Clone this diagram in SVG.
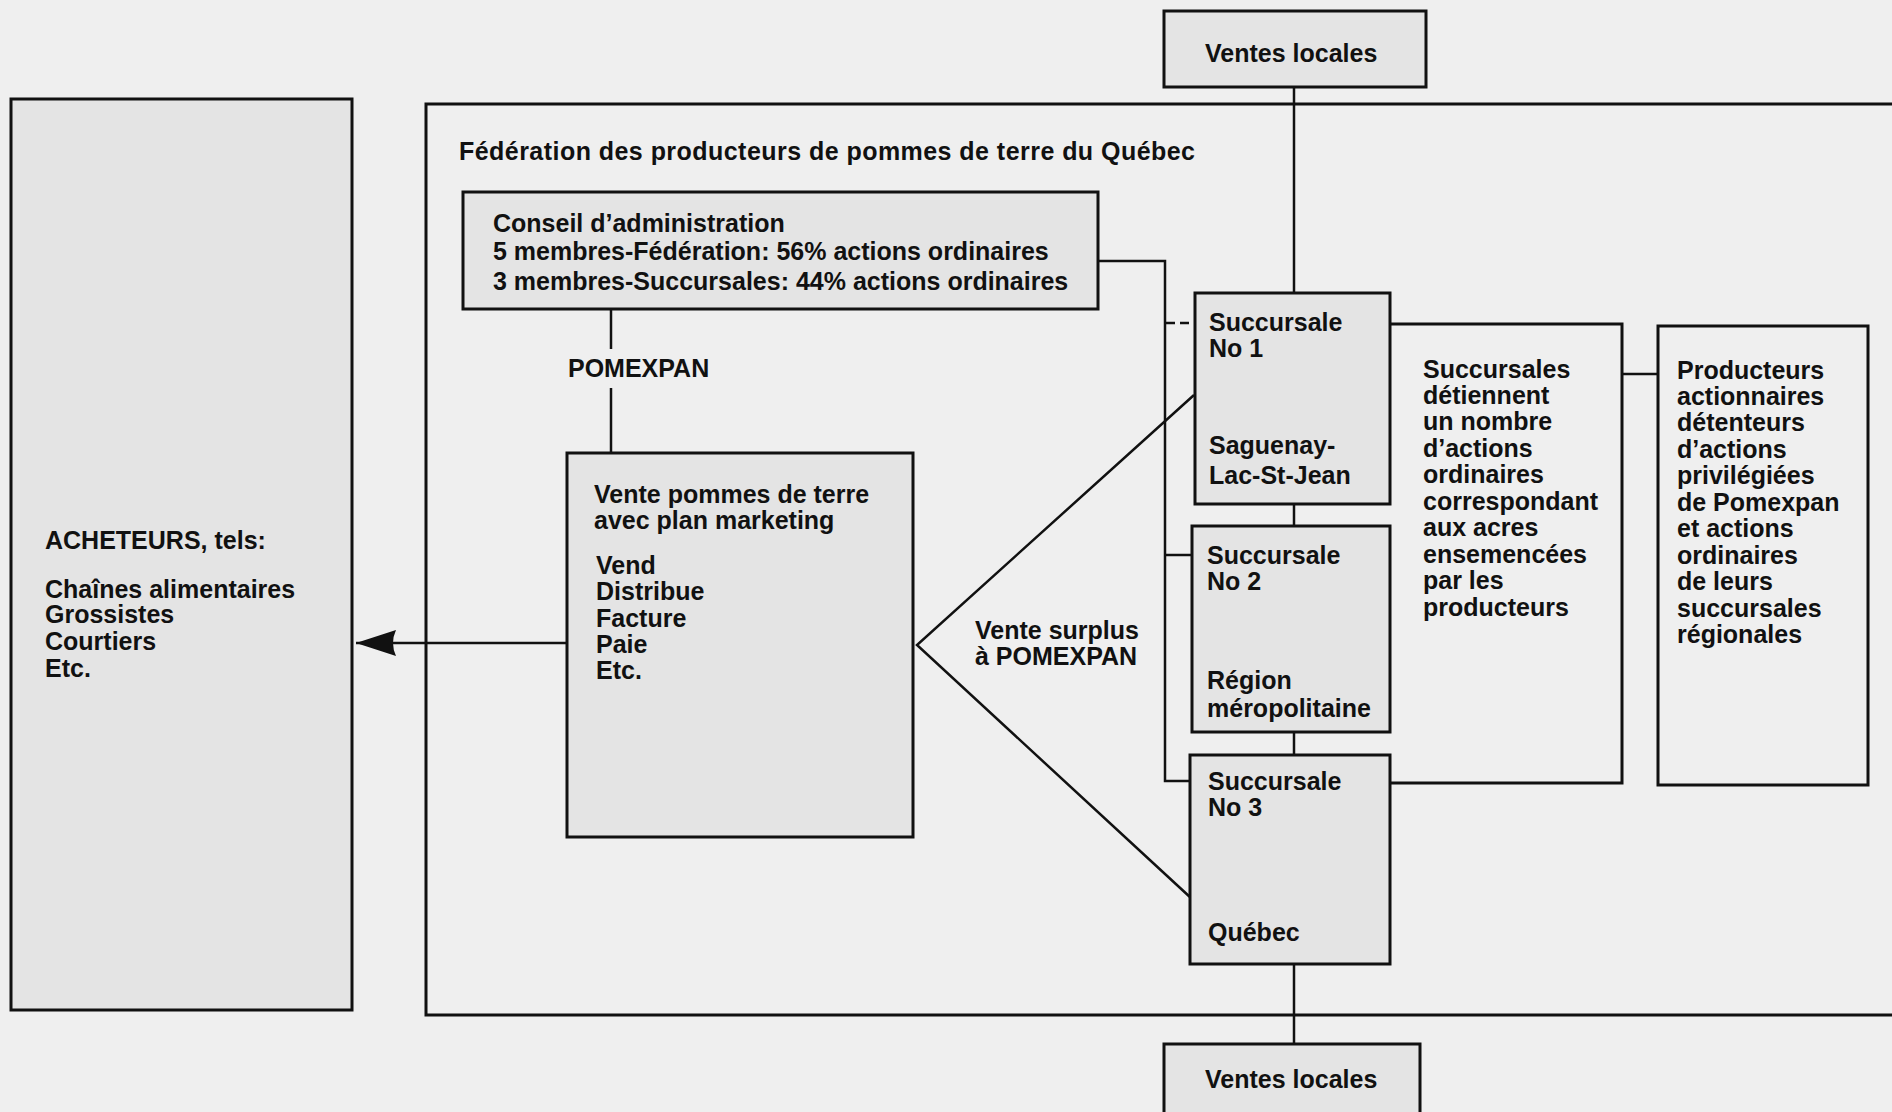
<svg xmlns="http://www.w3.org/2000/svg" width="1892" height="1112" viewBox="0 0 1892 1112">
<defs>
<style>
text{font-family:"Liberation Sans",Arial,sans-serif;font-weight:bold;font-size:25px;fill:#111}
.box{fill:#e4e4e4;stroke:#111;stroke-width:3}
.open{fill:none;stroke:#111;stroke-width:3}
.ln{fill:none;stroke:#111;stroke-width:2.5}
.dash{fill:none;stroke:#111;stroke-width:2.5;stroke-dasharray:9 5}
</style>
<marker id="arr" markerUnits="userSpaceOnUse" viewBox="0 0 44 28" refX="42" refY="14" markerWidth="44" markerHeight="28" orient="auto">
<path d="M42,14 L2,1 Q8,14 2,27 Z" fill="#111"/>
</marker>
</defs>
<rect width="1892" height="1112" fill="#efefef"/>

<g id="federation">
<path class="open" d="M1900,104 H426 V1015 H1900"/>
<text x="459" y="160" textLength="736" lengthAdjust="spacing">Fédération des producteurs de pommes de terre du Québec</text>
</g>

<g id="acheteurs">
<rect class="box" x="11" y="99" width="341" height="911"/>
<text x="45" y="549">ACHETEURS, tels:</text>
<text x="45" y="598">Chaînes alimentaires</text>
<text x="45" y="623">Grossistes</text>
<text x="45" y="650">Courtiers</text>
<text x="45" y="677">Etc.</text>
</g>

<g id="conseil">
<rect class="box" x="463" y="192" width="635" height="117"/>
<text x="493" y="232">Conseil d’administration</text>
<text x="493" y="260">5 membres-Fédération: 56% actions ordinaires</text>
<text x="493" y="290">3 membres-Succursales: 44% actions ordinaires</text>
</g>

<g id="pomexpan-label">
<text x="568" y="377">POMEXPAN</text>
</g>

<g id="vente">
<rect class="box" x="567" y="453" width="346" height="384"/>
<text x="594" y="503">Vente pommes de terre</text>
<text x="594" y="529">avec plan marketing</text>
<text x="596" y="574">Vend</text>
<text x="596" y="600">Distribue</text>
<text x="596" y="627">Facture</text>
<text x="596" y="653">Paie</text>
<text x="596" y="679">Etc.</text>
</g>

<g id="surplus-label">
<text x="975" y="639">Vente surplus</text>
<text x="975" y="665">à POMEXPAN</text>
</g>

<g id="ventes-haut">
<rect class="box" x="1164" y="11" width="262" height="76"/>
<text x="1205" y="62">Ventes locales</text>
</g>

<g id="ventes-bas">
<rect class="box" x="1164" y="1044" width="256" height="90"/>
<text x="1205" y="1088">Ventes locales</text>
</g>

<g id="succursales-info">
<path class="open" d="M1390,324 H1622 V783 H1390"/>
<text x="1423" y="378">Succursales</text>
<text x="1423" y="404">détiennent</text>
<text x="1423" y="430">un nombre</text>
<text x="1423" y="457">d’actions</text>
<text x="1423" y="483">ordinaires</text>
<text x="1423" y="510">correspondant</text>
<text x="1423" y="536">aux acres</text>
<text x="1423" y="563">ensemencées</text>
<text x="1423" y="589">par les</text>
<text x="1423" y="616">producteurs</text>
</g>

<g id="producteurs">
<rect x="1658" y="326" width="210" height="459" fill="#efefef" stroke="#111" stroke-width="3"/>
<text x="1677" y="379">Producteurs</text>
<text x="1677" y="405">actionnaires</text>
<text x="1677" y="431">détenteurs</text>
<text x="1677" y="458">d’actions</text>
<text x="1677" y="484">privilégiées</text>
<text x="1677" y="511">de Pomexpan</text>
<text x="1677" y="537">et actions</text>
<text x="1677" y="564">ordinaires</text>
<text x="1677" y="590">de leurs</text>
<text x="1677" y="617">succursales</text>
<text x="1677" y="643">régionales</text>
</g>

<g id="connectors">
<line class="ln" x1="1294" y1="87" x2="1294" y2="293"/>
<line class="ln" x1="1294" y1="504" x2="1294" y2="526"/>
<line class="ln" x1="1294" y1="732" x2="1294" y2="755"/>
<line class="ln" x1="1294" y1="964" x2="1294" y2="1044"/>
<polyline class="ln" points="1098,261 1165,261 1165,781 1190,781"/>
<line class="dash" x1="1166" y1="323" x2="1194" y2="323"/>
<line class="ln" x1="1165" y1="555" x2="1192" y2="555"/>
<line class="ln" x1="611" y1="309" x2="611" y2="349"/>
<line class="ln" x1="611" y1="388" x2="611" y2="453"/>
<line class="ln" x1="567" y1="643" x2="356" y2="643" marker-end="url(#arr)"/>
<polyline class="ln" points="1194,395 917,645 1191,898"/>
<line class="ln" x1="1622" y1="374" x2="1658" y2="374"/>
</g>

<g id="succursale-1">
<rect class="box" x="1195" y="293" width="195" height="211"/>
<text x="1209" y="331">Succursale</text>
<text x="1209" y="357">No 1</text>
<text x="1209" y="454">Saguenay-</text>
<text x="1209" y="484">Lac-St-Jean</text>
</g>

<g id="succursale-2">
<rect class="box" x="1192" y="526" width="198" height="206"/>
<text x="1207" y="564">Succursale</text>
<text x="1207" y="590">No 2</text>
<text x="1207" y="689">Région</text>
<text x="1207" y="717">méropolitaine</text>
</g>

<g id="succursale-3">
<rect class="box" x="1190" y="755" width="200" height="209"/>
<text x="1208" y="790">Succursale</text>
<text x="1208" y="816">No 3</text>
<text x="1208" y="941">Québec</text>
</g>
</svg>
